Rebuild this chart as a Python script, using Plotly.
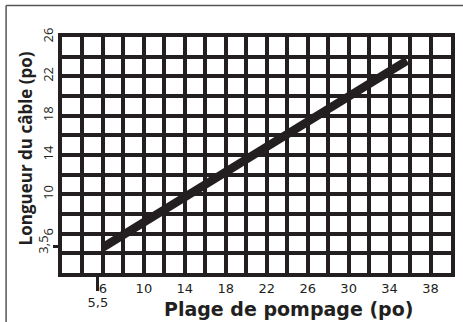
import plotly.graph_objects as go

# Cable length vs. pumping range
pump_range = [6.0, 35.7]          # Plage de pompage (po)
cable_length = [4.6, 23.6]        # Longueur du câble (po)

x_grid = list(range(2, 41, 2))
x_labels = [6, 10, 14, 18, 22, 26, 30, 34, 38]
y_grid = list(range(2, 27, 2))
y_labels = [6, 10, 14, 18, 22, 26]

x_extra_tick = [5.5]
x_extra_text = ["5,5"]
y_extra_tick = [4.7]
y_extra_text = ["3,5"]

INK = "#231f20"
W, H = 463, 322
L, R, T, B = 62, 8, 37, 49
pw, ph = W - L - R, H - T - B


def px_x(p):
    return (p - L) / pw


def px_y(p):
    return (H - B - p) / ph


fig = go.Figure()
fig.add_trace(go.Scatter(
    x=pump_range, y=cable_length, mode="lines",
    line=dict(color=INK, width=8.5), showlegend=False, hoverinfo="skip",
))
# invisible traces to activate the secondary axes
fig.add_trace(go.Scatter(x=[None], y=[None], xaxis="x2", yaxis="y", showlegend=False))
fig.add_trace(go.Scatter(x=[None], y=[None], xaxis="x", yaxis="y2", showlegend=False))

tick_font_x = dict(family="DejaVu Sans", size=13, color=INK)
tick_font_y = dict(family="Open Sans", size=13, color=INK)

fig.update_layout(
    width=W, height=H,
    margin=dict(l=L, r=R, t=T, b=B),
    paper_bgcolor="white", plot_bgcolor="white",
    xaxis=dict(
        range=[2, 40], tickmode="array", tickvals=x_grid,
        ticktext=[str(v) if v in x_labels else "" for v in x_grid],
        showgrid=True, gridcolor=INK, gridwidth=3.5,
        showline=True, linecolor=INK, linewidth=4, mirror=True,
        ticks="", tickfont=tick_font_x, zeroline=False,
    ),
    yaxis=dict(
        range=[2, 26], tickmode="array", tickvals=y_grid,
        ticktext=[str(v) if v in y_labels else "" for v in y_grid],
        showgrid=True, gridcolor=INK, gridwidth=3.5,
        showline=True, linecolor=INK, linewidth=4, mirror=True,
        ticks="", tickangle=-90, tickfont=tick_font_y, zeroline=False,
    ),
    xaxis2=dict(
        range=[2, 40], overlaying="x", anchor="y", side="bottom",
        tickmode="array", tickvals=x_extra_tick, ticktext=x_extra_text,
        ticks="outside", ticklen=17, tickwidth=2.5, tickcolor=INK,
        showgrid=False, showline=False, zeroline=False, tickfont=tick_font_x,
    ),
    yaxis2=dict(
        range=[2, 26], overlaying="y", anchor="x", side="left",
        tickmode="array", tickvals=y_extra_tick, ticktext=y_extra_text,
        ticks="outside", ticklen=8, tickwidth=2.5, tickcolor=INK, tickangle=-90,
        showgrid=False, showline=False, zeroline=False, tickfont=tick_font_y,
    ),
    annotations=[
        dict(text="Plage de pompage (po)", xref="paper", yref="paper",
             x=px_x(291), y=px_y(309), xanchor="center", yanchor="middle",
             showarrow=False,
             font=dict(family="DejaVu Sans", size=19, color=INK, weight="bold")),
        dict(text="Longueur du câble (po)", xref="paper", yref="paper",
             x=px_x(25), y=px_y(148), xanchor="center", yanchor="middle",
             textangle=-90, showarrow=False,
             font=dict(family="Open Sans", size=17, color=INK, weight="bold")),
    ],
    shapes=[
        dict(type="line", xref="paper", yref="paper",
             x0=px_x(5.5), x1=px_x(5.5), y0=px_y(5.5), y1=px_y(330),
             line=dict(color="#555555", width=1.5)),
        dict(type="line", xref="paper", yref="paper",
             x0=px_x(5.5), x1=px_x(470), y0=px_y(5.5), y1=px_y(5.5),
             line=dict(color="#555555", width=1.5)),
    ],
)

fig.write_html("out.html")
